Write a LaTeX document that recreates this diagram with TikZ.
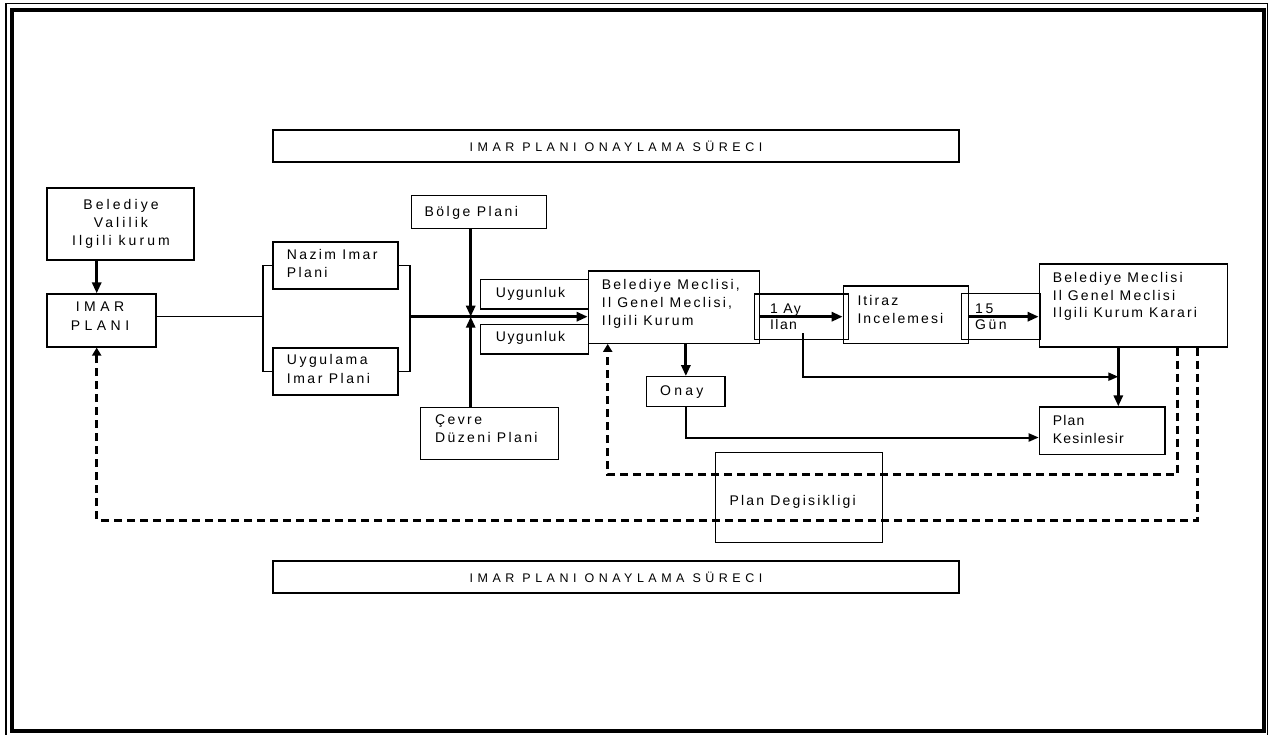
\documentclass[tikz,border=0pt]{standalone}
\usepackage{fontspec}
\setmainfont{Liberation Sans}
\newfontfamily\lab{Liberation Sans}
\newfontfamily\ttl{Liberation Sans}[LetterSpace=36]
\usetikzlibrary{arrows.meta}

% rectangle node from corner (#2,#3) to corner (#4,#5)
\newcommand\bx[5]{\node[box,minimum width={#4-#2},minimum height={#5-#3}] (#1) at ({(#2+#4)/2},{(#3+#5)/2}) {};}

\begin{document}
\begin{tikzpicture}[x=1pt,y=-1pt,
  box/.style={draw,line width=1.2pt,inner sep=0pt},
  lbl/.style 2 args={font={\lab\fontsize{14}{#2}\selectfont\addfontfeatures{LetterSpace=#1}},
    inner sep=0pt,align=left,anchor=west,
    execute at begin node=\strut,execute at end node=\strut},
  ctr/.style 2 args={lbl={#1}{#2},align=center,anchor=center},
  titlebox/.style={box,minimum width=686pt,minimum height=32pt,
    font={\ttl\fontsize{12.5}{15}\selectfont}},
  thin/.style={line width=1.2pt},
  heavy/.style={line width=3pt,-{Triangle[length=11pt,width=9pt]}},
  mid/.style={line width=2pt,-{Triangle[length=10pt,width=8pt]}},
  back/.style={line width=3pt,dash pattern=on 8pt off 5pt,-{Triangle[length=8pt,width=9pt]}},
]
\useasboundingbox (0,0) rectangle (1273,734);

% page frame: thick inner rule, thin outer rule
\draw[line width=4pt] (12,10) rectangle (1263.5,730.5);
\draw[line width=1.2pt] (6,3.5) rectangle (1267.8,745);

% titles
\node[titlebox] (title1) at (616,146) {IMAR PLANI ONAYLAMA SÜRECI};
\node[titlebox] (title2) at (616,577) {IMAR PLANI ONAYLAMA SÜRECI};

% boxes
\bx{bel}{47}{188}{194}{260}
\bx{imar}{47}{294}{156}{347}
\bx{nazim}{273}{242}{398}{289}
\bx{uyg}{273}{348}{398}{395}
\bx{bolge}{411.7}{195.7}{546.7}{228.3}
\bx{cevre}{420.7}{407.3}{558.3}{459.3}
\bx{uyg1}{480.7}{279.3}{588.3}{309}
\bx{uyg2}{480.7}{324.3}{588.3}{354}
\bx{mec}{588.3}{271}{759.3}{343.3}
\bx{onay}{646.7}{376.7}{725}{406.7}
\bx{ay}{754.3}{294}{848.3}{339.3}
\bx{itiraz}{843.3}{286}{968.3}{343.3}
\bx{gun}{961.7}{293.3}{1040}{339.3}
\bx{karar}{1039.3}{264}{1227.3}{347}
\bx{kes}{1039.3}{407}{1165}{454.3}
\bx{deg}{715.7}{452.3}{882.3}{542.3}

% labels
\node[ctr={22}{18}] (tbel) at (121,224.7) {Belediye\\Valilik\\Ilgili kurum};
\node[ctr={32}{19}] (timar) at (100,319.5) {IMAR\\PLANI};
\node[lbl={17}{18}] (tnazim) at (286.7,266.2) {Nazim Imar\\Plani};
\node[lbl={18}{19}] (tuyg) at (286.7,372.2) {Uygulama\\Imar Plani};
\node[lbl={18}{18}] (tbolge) at (424.3,212.7) {Bölge Plani};
\node[lbl={17}{17.5}] (tcevre) at (435,431.3) {Çevre\\Düzeni Plani};
\node[lbl={11}{18}] (tuyg1) at (495.7,294.3) {Uygunluk};
\node[lbl={11}{18}] (tuyg2) at (495.7,338.3) {Uygunluk};
\node[lbl={16}{18}] (tmec) at (601.7,305.5) {Belediye Meclisi,\\Il Genel Meclisi,\\Ilgili Kurum};
\node[lbl={23}{18}] (tonay) at (660,392.3) {Onay};
\node[lbl={10}{16}] (tay) at (770,319.5) {1 Ay\\Ilan};
\node[lbl={15}{18}] (titiraz) at (857.3,311.7) {Itiraz\\Incelemesi};
\node[lbl={18}{16}] (tgun) at (975,319.2) {15\\Gün};
\node[lbl={15}{17.5}] (tkarar) at (1052.7,297.8) {Belediye Meclisi\\Il Genel Meclisi\\Ilgili Kurum Karari};
\node[lbl={8}{18}] (tkes) at (1052.7,431.7) {Plan\\Kesinlesir};
\node[lbl={16}{18}] (tdeg) at (729.3,502.3) {Plan Degisikligi};

% junction points
\coordinate (lb) at (263,316.7);
\coordinate (rb) at (410,316.7);
\coordinate (hub) at (470.7,316.7);
\coordinate (ok) at (0,437.5);
\coordinate (ay0) at (802.7,333);
\coordinate (kv) at (1118.3,376.7);
\coordinate (d1) at (1177.3,474.5);
\coordinate (d1b) at (607.7,474.5);
\coordinate (d2) at (1197.3,520);
\coordinate (d2b) at (96.7,520);

% connectors
\draw[heavy] (bel.south -| d2b) -- (imar.north -| d2b);
\draw[thin] (imar.east |- lb) -- (lb);
\draw[thin] (nazim.west) -- (nazim.west -| lb) -- (uyg.west -| lb) -- (uyg.west);
\draw[thin] (nazim.east) -- (nazim.east -| rb) -- (uyg.east -| rb) -- (uyg.east);
\draw[heavy] (rb) -- (mec.west |- rb);
\draw[heavy] (bolge.south -| hub) -- (hub);
\draw[heavy] (cevre.north -| hub) -- (hub);
\draw[heavy] (mec.south -| onay.north) -- (onay.north);
\draw[mid] (onay.south) |- (kes.west |- ok);
\draw[heavy] (mec.east |- rb) -- (itiraz.west |- rb);
\draw[heavy] (itiraz.east |- rb) -- (karar.west |- rb);
\draw[mid] (ay0) |- (kv);
\draw[heavy] (karar.south -| kv) -- (kes.north -| kv);
\draw[back] (karar.south -| d1) -- (d1) -- (d1b) -- (mec.south -| d1b);
\draw[back] (karar.south -| d2) -- (d2) -- (d2b) -- (imar.south -| d2b);
\end{tikzpicture}
\end{document}
